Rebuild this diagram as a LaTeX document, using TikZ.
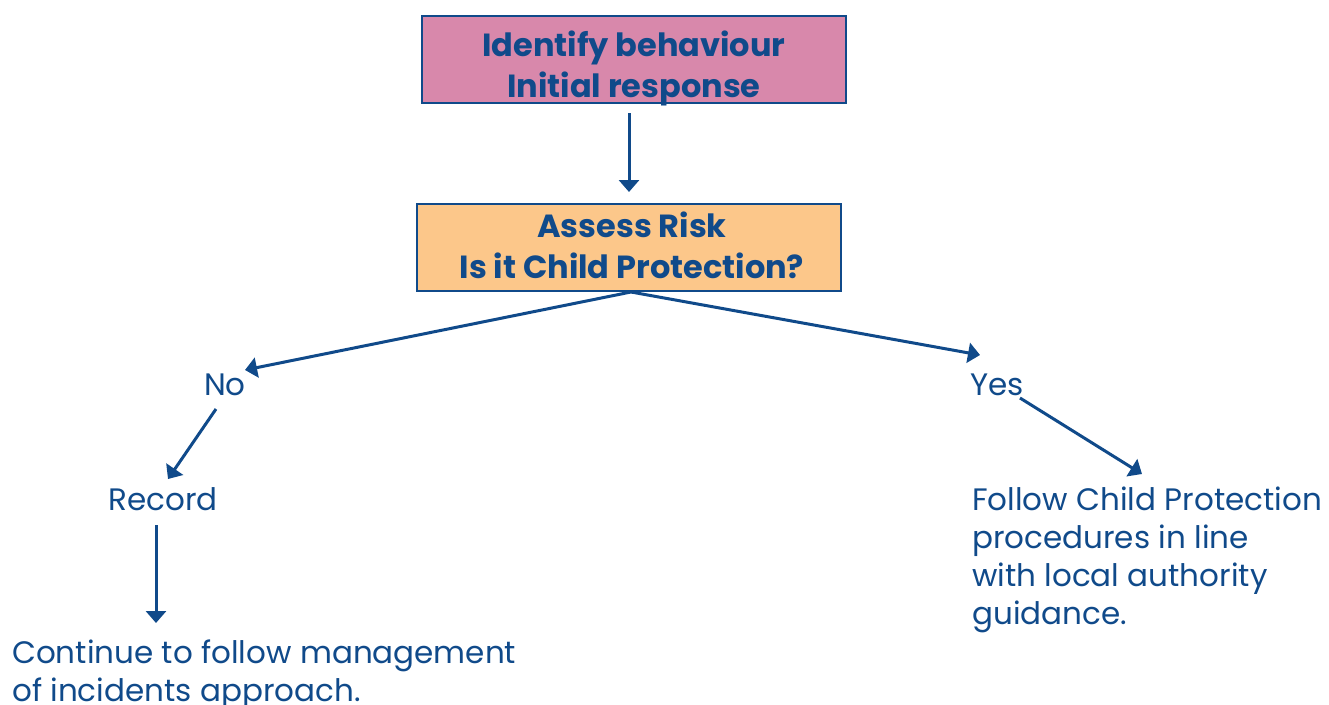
\documentclass[tikz,border=0pt]{standalone}
\usepackage{fontspec}
\setmainfont{Poppins}
\usetikzlibrary{arrows.meta}
\definecolor{navy}{RGB}{16,74,138}
\definecolor{pinkfill}{RGB}{216,136,171}
\definecolor{orangefill}{RGB}{252,199,138}
\begin{document}
\begin{tikzpicture}[x=1pt,y=-1pt,
  box/.style={draw=navy,line width=2.5pt,minimum width=424pt,minimum height=87pt,inner sep=0pt},
  boxtext/.style={inner sep=0pt,text=navy,align=center,font=\fontsize{32}{40.5}\selectfont\bfseries},
  lbl/.style={inner sep=0pt,text=navy,font=\fontsize{31}{38}\selectfont,align=left},
  arr/.style={draw=navy,line width=3pt,-{Triangle[width=20pt,length=12pt]}}]
\useasboundingbox (0,0) rectangle (1329,704);
\node[box,fill=pinkfill] (b1) at (634,59.5) {};
\node[boxtext,anchor=base] (t1) at (634,97) {Identify behaviour\\Initial response};
\node[box,fill=orangefill] (b2) at (629,247.5) {};
\node[boxtext,anchor=base] (t2) at (632,278) {Assess Risk\\Is it Child Protection?};
\node[lbl,anchor=base] (no) at (225,395) {No};
\node[lbl,anchor=base] (yes) at (997,395) {Yes};
\node[lbl,anchor=base] (rec) at (163,510) {Record};
\node[lbl,anchor=base west] (fol) at (972,624) {Follow Child Protection\\procedures in line\\with local authority\\guidance.};
\node[lbl,anchor=base west] (cont) at (12,701) {Continue to follow management\\of incidents approach.};
\coordinate (a1s) at (629,113);
\coordinate (a1e) at (629,192);
\coordinate (split) at (631,292);
\coordinate (noe) at (245,370);
\coordinate (yese) at (980,355);
\coordinate (nos) at (216,409);
\coordinate (rece) at (168,479);
\coordinate (yess) at (1020,398);
\coordinate (fole) at (1142,474);
\coordinate (recs) at (156,525);
\coordinate (conte) at (156,623);
\draw[arr] (a1s) -- (a1e);
\draw[arr] (split) -- (noe);
\draw[arr] (split) -- (yese);
\draw[arr] (nos) -- (rece);
\draw[arr] (yess) -- (fole);
\draw[arr] (recs) -- (conte);
\end{tikzpicture}
\end{document}
